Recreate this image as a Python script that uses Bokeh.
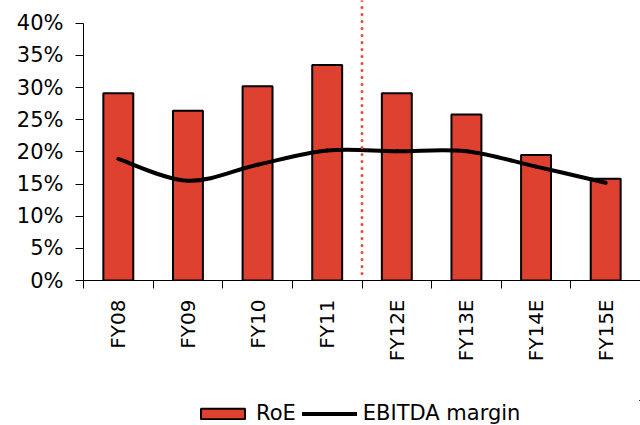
import math
import numpy as np
from bokeh.plotting import figure
from bokeh.layouts import column
from bokeh.models import (ColumnDataSource, Range1d, FixedTicker, LinearAxis,
                          NumeralTickFormatter, Span, Legend, LegendItem)
from bokeh.embed import file_html
from bokeh.resources import INLINE

# Return on equity and EBITDA margin, actuals FY08-FY11 and estimates FY12E-FY15E
categories = ["FY08", "FY09", "FY10", "FY11", "FY12E", "FY13E", "FY14E", "FY15E"]
roe_pct = [29.1, 26.4, 30.2, 33.5, 29.1, 25.8, 19.5, 15.8]
ebitda_margin_pct = [18.9, 15.5, 18.0, 20.2, 20.1, 20.1, 17.7, 15.2]
y_ticks_pct = [0, 5, 10, 15, 20, 25, 30, 35, 40]

FONT = "DejaVu Sans"
BAR_RED = "#DE4130"

n = len(categories)
xc = np.arange(n) + 0.5                      # category centres on a numeric scale
roe = np.array(roe_pct) / 100.0
ebitda = np.array(ebitda_margin_pct) / 100.0
n_actual = sum(1 for c in categories if not c.endswith("E"))

p = figure(width=640, height=400, output_backend="svg", toolbar_location=None,
           x_range=Range1d(0, n), y_range=Range1d(0, 0.4353),
           x_axis_type=None, y_axis_type=None,
           min_border_left=83, min_border_right=0, min_border_top=0,
           min_border_bottom=120)
p.outline_line_color = None
p.xgrid.visible = False
p.ygrid.visible = False
p.background_fill_color = "white"
p.border_fill_color = "white"

# y axis: percentages, line stops at the 40% tick
yaxis = LinearAxis(ticker=FixedTicker(ticks=[v / 100 for v in y_ticks_pct], minor_ticks=[]),
                   formatter=NumeralTickFormatter(format="0%"),
                   bounds=(0, 0.4))
yaxis.major_tick_out = 8
yaxis.major_tick_in = 0
yaxis.major_label_standoff = 12
yaxis.major_label_text_font = FONT
yaxis.major_label_text_font_size = "21px"
yaxis.major_label_text_color = "black"
yaxis.axis_line_color = "black"
yaxis.major_tick_line_color = "black"
p.add_layout(yaxis, "left")

# x axis: labels at category centres, tick marks on category boundaries
xaxis = LinearAxis(ticker=FixedTicker(ticks=list(xc), minor_ticks=list(range(n + 1))))
xaxis.major_label_overrides = {float(x): c for x, c in zip(xc, categories)}
xaxis.major_label_orientation = math.pi / 2
xaxis.major_tick_out = 0
xaxis.major_tick_in = 0
xaxis.minor_tick_out = 8
xaxis.minor_tick_in = 0
xaxis.minor_tick_line_color = "black"
xaxis.axis_line_color = "black"
xaxis.major_label_standoff = 11
xaxis.major_label_text_font = FONT
xaxis.major_label_text_font_size = "20px"
xaxis.major_label_text_color = "black"
p.add_layout(xaxis, "below")

src = ColumnDataSource(dict(x=xc, roe=roe, ebitda=ebitda, cat=categories))
bar_style = dict(fill_color=BAR_RED, line_color="black", line_width=2)
line_style = dict(line_color="black", line_width=4, line_cap="round")
p.vbar(x="x", top="roe", width=0.43, source=src, **bar_style)

# smoothed margin curve: cubic Bezier segments through each data point
ext_x = np.concatenate([[xc[0]], xc, [xc[-1]]])
ext_y = np.concatenate([[ebitda[0]], ebitda, [ebitda[-1]]])
x0, y0 = xc[:-1], ebitda[:-1]
x1, y1 = xc[1:], ebitda[1:]
cx0 = x0 + (ext_x[2:-1] - ext_x[0:-3]) / 6
cy0 = y0 + (ext_y[2:-1] - ext_y[0:-3]) / 6
cx1 = x1 - (ext_x[3:] - ext_x[1:-2]) / 6
cy1 = y1 - (ext_y[3:] - ext_y[1:-2]) / 6
p.bezier(x0=x0, y0=y0, x1=x1, y1=y1, cx0=cx0, cy0=cy0, cx1=cx1, cy1=cy1, **line_style)

# dotted divider between actuals and estimates
divider = Span(location=n_actual, dimension="height", line_color="#E8473A",
               line_width=3, line_dash="0 7", line_cap="round")
p.add_layout(divider)

# legend strip underneath the chart; its key renderers reuse the series
# but sit outside the strip's visible range, so only the legend shows
lg = figure(width=640, height=25, output_backend="svg", toolbar_location=None,
            x_range=Range1d(-3, -2), y_range=Range1d(-3, -2),
            x_axis_type=None, y_axis_type=None,
            min_border_left=0, min_border_right=0, min_border_top=0,
            min_border_bottom=0)
lg.outline_line_color = None
lg.xgrid.visible = False
lg.ygrid.visible = False
key_bar = lg.vbar(x="x", top="roe", width=0.43, source=src, **bar_style)
key_line = lg.line(x="x", y="ebitda", source=src, **line_style)
legend = Legend(items=[LegendItem(label="RoE", renderers=[key_bar]),
                       LegendItem(label="EBITDA margin", renderers=[key_line])],
                orientation="horizontal", location=(112, 0),
                label_text_font=FONT, label_text_font_size="21px",
                label_text_color="black",
                glyph_width=55, glyph_height=13, label_standoff=6, spacing=6,
                border_line_color=None, background_fill_alpha=0,
                padding=0, margin=0)
lg.add_layout(legend)

layout = column(p, lg, spacing=0)
open("out.html", "w").write(file_html(layout, INLINE))
